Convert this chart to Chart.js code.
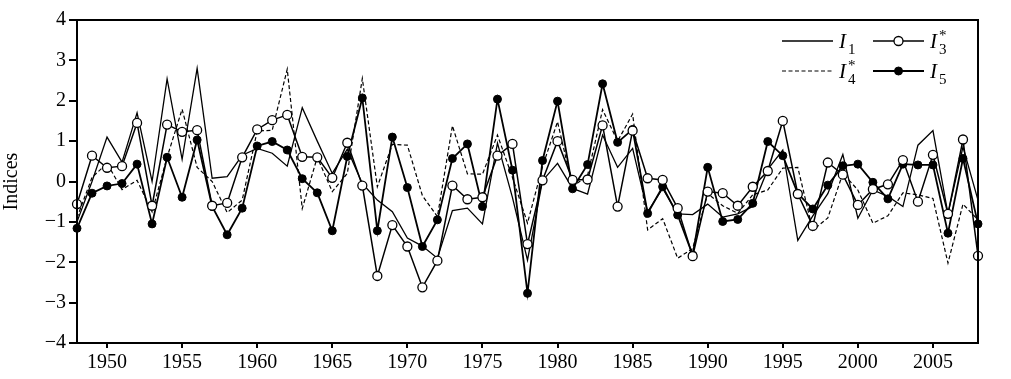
<!DOCTYPE html>
<html><head><meta charset="utf-8">
<script src="https://cdn.jsdelivr.net/npm/chart.js@4"></script>
<style>html,body{margin:0;padding:0;background:#fff;}#wrap{width:1011px;height:379px;}</style>
</head><body><div id="wrap"><canvas id="c" width="1011" height="379"></canvas></div>
<script>
const years = [1948,1949,1950,1951,1952,1953,1954,1955,1956,1957,1958,1959,1960,1961,1962,1963,1964,1965,1966,1967,1968,1969,1970,1971,1972,1973,1974,1975,1976,1977,1978,1979,1980,1981,1982,1983,1984,1985,1986,1987,1988,1989,1990,1991,1992,1993,1994,1995,1996,1997,1998,1999,2000,2001,2002,2003,2004,2005,2006,2007,2008];
const xTickValues = [1950,1955,1960,1965,1970,1975,1980,1985,1990,1995,2000,2005];
const yTickValues = [-4,-3,-2,-1,0,1,2,3,4];
const seriesI1 = [-1.0,0.0,1.1,0.48,1.7,0.0,2.54,0.55,2.8,0.08,0.12,0.65,0.82,0.7,0.38,1.83,1.0,0.2,0.8,-0.05,-0.46,-0.75,-1.4,-1.6,-1.9,-0.72,-0.66,-1.05,0.95,-0.4,-1.95,0.02,0.45,-0.17,-0.31,1.15,0.35,0.82,-0.75,-0.17,-0.8,-0.82,-0.56,-0.88,-0.8,-0.62,0.3,0.78,-1.46,-0.85,-0.3,0.67,-0.91,-0.21,-0.37,-0.62,0.9,1.26,-0.8,0.86,-0.46];
const seriesI3 = [-0.56,0.64,0.34,0.38,1.45,-0.6,1.41,1.23,1.27,-0.6,-0.53,0.6,1.29,1.52,1.65,0.61,0.6,0.09,0.96,-0.1,-2.34,-1.08,-1.61,-2.62,-1.96,-0.1,-0.44,-0.39,0.64,0.93,-1.55,0.03,1.0,0.04,0.05,1.39,-0.62,1.26,0.08,0.04,-0.66,-1.85,-0.25,-0.29,-0.6,-0.13,0.26,1.5,-0.31,-1.1,0.47,0.17,-0.58,-0.19,-0.07,0.53,-0.5,0.66,-0.8,1.04,-1.84];
const seriesI4 = [-0.9,0.1,0.45,-0.2,0.03,-0.75,0.6,1.79,0.35,0.0,-0.77,-0.46,1.25,1.27,2.78,-0.67,0.6,-0.25,0.2,2.55,-0.13,0.92,0.9,-0.35,-0.87,1.38,0.19,0.18,1.15,0.1,-1.03,0.37,1.48,-0.13,0.15,1.78,1.0,1.67,-1.2,-0.92,-1.9,-1.66,-0.3,-0.6,-0.79,-0.33,-0.21,0.33,0.35,-1.21,-0.9,0.2,-0.21,-1.03,-0.85,-0.28,-0.33,-0.42,-2.02,-0.56,-0.95];
const seriesI5 = [-1.16,-0.29,-0.11,-0.05,0.43,-1.05,0.6,-0.39,1.03,-0.62,-1.32,-0.66,0.88,0.99,0.78,0.07,-0.28,-1.22,0.62,2.07,-1.22,1.1,-0.15,-1.61,-0.95,0.57,0.93,-0.62,2.04,0.28,-2.77,0.52,1.99,-0.18,0.42,2.42,0.97,1.29,-0.79,-0.13,-0.83,-1.82,0.35,-0.99,-0.94,-0.54,0.99,0.64,-0.3,-0.68,-0.09,0.39,0.43,-0.02,-0.43,0.43,0.41,0.41,-1.28,0.57,-1.05];
const yTitle = 'Indices';

const FONT = '"Liberation Serif","Times New Roman",serif';
const pts = arr => years.map((yr, i) => ({x: yr, y: arr[i]}));

const legendItems = [
  {name:'I', sub:'1', sup:'', col:0, row:0, ds:2},
  {name:'I', sub:'3', sup:'*', col:1, row:0, ds:0},
  {name:'I', sub:'4', sup:'*', col:0, row:1, ds:3},
  {name:'I', sub:'5', sup:'', col:1, row:1, ds:1}
];

const framePlugin = {
  id: 'frame',
  afterDraw(chart) {
    const {ctx, chartArea: a} = chart;
    ctx.save();
    ctx.strokeStyle = '#000';
    ctx.lineWidth = 2;
    ctx.strokeRect(a.left, a.top, a.right - a.left, a.bottom - a.top);
    // legend
    const colX = [782, 873], rowY = [41, 71];
    legendItems.forEach(it => {
      const ds = chart.data.datasets[it.ds];
      const x0 = colX[it.col], y0 = rowY[it.row], x1 = x0 + 51;
      ctx.strokeStyle = '#000';
      ctx.lineWidth = ds.borderWidth;
      ctx.setLineDash(ds.borderDash || []);
      ctx.beginPath(); ctx.moveTo(x0, y0); ctx.lineTo(x1, y0); ctx.stroke();
      ctx.setLineDash([]);
      if (ds.pointRadius > 0) {
        ctx.beginPath();
        ctx.arc((x0 + x1) / 2, y0, ds.pointRadius, 0, Math.PI * 2);
        ctx.fillStyle = ds.pointBackgroundColor;
        ctx.fill();
        ctx.lineWidth = ds.pointBorderWidth;
        ctx.stroke();
      }
      ctx.fillStyle = '#000';
      ctx.textBaseline = 'alphabetic';
      ctx.textAlign = 'left';
      ctx.font = 'italic 21px ' + FONT;
      const tx = x1 + 6;
      ctx.fillText(it.name, tx, y0 + 7);
      const w = ctx.measureText(it.name).width;
      ctx.font = '15px ' + FONT;
      ctx.fillText(it.sub, tx + w + 2, y0 + 13);
      if (it.sup) ctx.fillText(it.sup, tx + w + 2, y0 - 1);
    });
    ctx.restore();
  }
};

new Chart(document.getElementById('c'), {
  type: 'line',
  data: {
    datasets: [
      {label:'I3*', data: pts(seriesI3), borderColor:'#000', borderWidth:1.5, pointRadius:4.5, pointBackgroundColor:'#fff', pointBorderColor:'#000', pointBorderWidth:1.3, tension:0, clip:false},
      {label:'I5', data: pts(seriesI5), borderColor:'#000', borderWidth:1.8, pointRadius:4, pointBackgroundColor:'#000', pointBorderColor:'#000', pointBorderWidth:1, tension:0, clip:false},
      {label:'I1', data: pts(seriesI1), borderColor:'#000', borderWidth:1.3, pointRadius:0, pointBackgroundColor:'#000', pointBorderWidth:0, tension:0, clip:false},
      {label:'I4*', data: pts(seriesI4), borderColor:'#000', borderWidth:1.2, borderDash:[4,2.5], pointRadius:0, pointBackgroundColor:'#000', pointBorderWidth:0, tension:0, clip:false}
    ]
  },
  options: {
    responsive: false,
    animation: false,
    devicePixelRatio: 1,
    layout: {padding: {left: 0, right: 33, top: 20, bottom: 0}},
    plugins: {legend: {display: false}, tooltip: {enabled: false}},
    scales: {
      x: {
        type: 'linear', min: 1948, max: 2008,
        afterBuildTicks: s => { s.ticks = xTickValues.map(v => ({value: v})); },
        afterFit: s => { s.height = 36; },
        grid: {drawOnChartArea: false, drawTicks: true, tickLength: 5, color: '#000', lineWidth: 2},
        border: {display: true, color: '#000', width: 2},
        ticks: {autoSkip: false, maxRotation: 0, padding: 3, color: '#000', font: {family: FONT, size: 20}, callback: v => String(v)}
      },
      y: {
        min: -4, max: 4,
        afterBuildTicks: s => { s.ticks = yTickValues.map(v => ({value: v})); },
        afterFit: s => { s.width = 77; },
        grid: {drawOnChartArea: false, drawTicks: true, tickLength: 8, color: '#000', lineWidth: 2},
        border: {display: true, color: '#000', width: 2},
        title: {display: true, text: yTitle, color: '#000', font: {family: FONT, size: 20}, padding: {top: 0, bottom: 0}},
        ticks: {padding: 3, color: '#000', font: {family: FONT, size: 20}, callback: v => v < 0 ? '\u2212' + Math.abs(v) : String(v)}
      }
    }
  },
  plugins: [framePlugin]
});
</script></body></html>
